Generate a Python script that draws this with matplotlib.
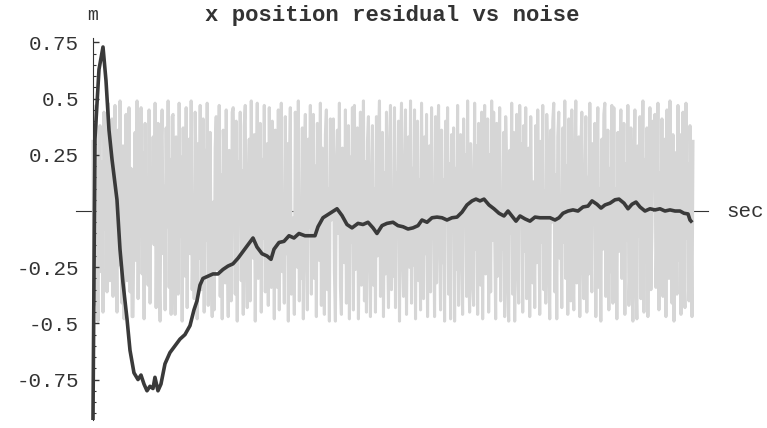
import numpy as np
import matplotlib.pyplot as plt
from matplotlib.ticker import MultipleLocator

# residual of the x position estimate (m) against time (sec)
residual_t = [0, 0.33, 1.0, 1.67, 2.17, 2.67, 3.17, 4.0, 4.5, 5.0, 5.67, 6.17, 6.83,
              7.5, 8.0, 8.5, 9.0, 9.5, 10.0, 10.33, 10.83, 11.33, 12.0, 12.83, 13.67,
              14.5, 15.33, 16.17, 16.83, 17.33, 17.83, 18.33, 19.17, 20.0, 20.83, 21.67,
              22.5, 23.33, 24.17, 25.0, 25.83, 26.67, 27.33, 28.17, 29.0, 29.67, 30.17,
              31.0, 31.83, 32.67, 33.5, 34.33, 35.33, 36.17, 37.0, 37.5, 38.33, 39.5,
              40.67, 41.5, 42.33, 43.17, 44.17, 45.0, 45.83, 46.67, 47.33, 48.17, 49.0,
              50.0, 50.83, 51.67, 52.5, 53.33, 54.17, 54.83, 55.67, 56.5, 57.33, 58.17,
              59.0, 59.83, 60.67, 61.5, 62.33, 63.17, 63.83, 64.5, 65.17, 66.0, 66.83,
              67.67, 68.5, 69.17, 69.83, 70.5, 71.17, 72.0, 72.83, 73.67, 74.5, 75.33,
              76.17, 77.0, 77.67, 78.33, 79.17, 80.0, 80.83, 81.67, 82.5, 83.17, 84.0,
              84.67, 85.33, 86.17, 87.0, 87.67, 88.5, 89.17, 89.83, 90.5, 91.17, 92.0,
              92.83, 93.67, 94.5, 95.33, 96.17, 97.0, 97.83, 98.5, 99.17, 99.5, 99.67]
residual_m = [-0.93, 0.32, 0.63, 0.73, 0.58, 0.36, 0.23, 0.05, -0.17, -0.32, -0.48, -0.62,
              -0.72, -0.75, -0.73, -0.77, -0.80, -0.78, -0.79, -0.74, -0.80, -0.77, -0.68,
              -0.63, -0.60, -0.57, -0.55, -0.51, -0.44, -0.40, -0.33, -0.30, -0.29, -0.28,
              -0.28, -0.26, -0.245, -0.235, -0.21, -0.18, -0.15, -0.12, -0.16, -0.19,
              -0.20, -0.215, -0.17, -0.14, -0.135, -0.11, -0.12, -0.10, -0.11, -0.11,
              -0.11, -0.07, -0.03, -0.01, 0.01, -0.02, -0.06, -0.075, -0.055, -0.06,
              -0.05, -0.075, -0.10, -0.065, -0.055, -0.05, -0.065, -0.07, -0.08, -0.075,
              -0.065, -0.04, -0.05, -0.03, -0.027, -0.03, -0.04, -0.03, -0.027, -0.005,
              0.027, 0.045, 0.053, 0.045, 0.053, 0.027, 0.01, -0.01, -0.022, 0.0, -0.022,
              -0.045, -0.022, -0.035, -0.045, -0.027, -0.03, -0.03, -0.03, -0.04, -0.03,
              -0.01, 0.0, 0.005, 0.0, 0.018, 0.022, 0.045, 0.03, 0.013, 0.027, 0.035,
              0.05, 0.053, 0.035, 0.01, 0.03, 0.04, 0.018, 0.0, 0.01, 0.005, 0.01, 0.0,
              0.005, 0.0, 0.0, -0.01, -0.013, -0.04, -0.045]

# measurement noise samples (m), evenly spaced over the run
noise_m = [
    0.31, -0.42, 0.12, 0.47, -0.18, -0.49, 0.05, 0.38, -0.27, 0.22, -0.45, 0.44, -0.08, 0.29, -0.36, 0.48, -0.13, -0.31, 0.17, 0.41,
    -0.38, 0.21, 0.47, -0.11, -0.45, 0.36, -0.24, 0.49, 0.08, -0.41, 0.29, -0.48, 0.14, 0.43, -0.31, -0.02, 0.46, -0.36, 0.19, -0.47,
    -0.47, 0.02, 0.35, -0.22, 0.49, -0.39, 0.11, -0.04, 0.46, -0.28, 0.26, -0.48, 0.39, -0.15, 0.07, -0.33, 0.45, -0.41, 0.19, -0.06,
    0.33, -0.15, 0.48, -0.43, 0.05, 0.39, -0.28, -0.49, 0.26, 0.45, -0.19, 0.11, -0.44, 0.37, -0.07, 0.49, -0.34, 0.23, -0.46, 0.42,
    0.43, -0.24, -0.46, 0.33, 0.09, -0.37, 0.48, -0.11, 0.24, -0.49, 0.37, -0.02, -0.29, 0.46, -0.43, 0.14, 0.32, -0.19, 0.49, -0.35,
    -0.09, -0.39, 0.44, 0.16, -0.48, 0.30, -0.21, 0.47, -0.35, 0.02, 0.41, -0.45, 0.27, -0.13, 0.48, -0.42, 0.09, 0.35, -0.29, -0.47,
    0.04, -0.44, 0.28, 0.42, -0.26, -0.09, 0.47, -0.38, 0.16, -0.48, 0.36, 0.21, -0.32, 0.45, -0.14, -0.47, 0.27, 0.01, -0.40, 0.44,
    0.46, 0.12, -0.37, 0.40, -0.49, 0.22, -0.06, 0.44, -0.31, 0.18, -0.46, 0.38, 0.47, -0.24, -0.43, 0.07, 0.32, -0.40, 0.49, -0.16,
    -0.21, 0.34, -0.49, 0.13, 0.48, -0.30, -0.05, 0.39, -0.45, 0.23, -0.12, 0.47, -0.36, 0.08, 0.30, -0.42, 0.46, -0.17, -0.34, 0.40,
    0.25, -0.48, 0.36, -0.01, -0.34, 0.45, -0.44, 0.13, 0.48, -0.27, 0.04, -0.41, 0.42, -0.19, 0.30, -0.49, 0.17, 0.46, -0.37, -0.08,
    -0.03, -0.46, 0.44, 0.18, -0.25, 0.49, -0.40, 0.06, -0.30, 0.37, -0.48, 0.25, 0.43, -0.16, -0.44, 0.32, -0.07, 0.47, -0.37, 0.15,
    0.43, -0.30, 0.20, -0.47, 0.39, 0.06, -0.22, 0.48, -0.42, 0.28, -0.12, -0.46, 0.34, 0.45, -0.35, 0.10, -0.49, 0.41, -0.04, 0.24,
    0.41, -0.27, -0.49, 0.20, 0.36, -0.10, 0.48, -0.34, -0.46, 0.28, 0.03, -0.23, 0.45, -0.41, 0.12, 0.38, -0.48, 0.24, -0.14, 0.46,
    -0.44, 0.47, -0.26, 0.15, 0.37, -0.48, 0.01, 0.44, -0.33, -0.14, 0.49, -0.40, 0.22, -0.45, 0.31, 0.42, -0.18, -0.47, 0.08, 0.38,
    -0.33, 0.10, -0.45, 0.42, -0.20, 0.31, 0.49, -0.38, -0.01, 0.35, -0.47, 0.17, -0.28, 0.44, -0.11, -0.43, 0.26, 0.47, -0.35, 0.07,
    -0.29, 0.46, -0.43, 0.17, -0.07, 0.40, -0.49, 0.27, 0.48, -0.20, -0.38, 0.12, 0.45, -0.46, 0.03, 0.33, -0.25, 0.49, -0.41, 0.19,
    -0.24, 0.45, -0.48, 0.22, 0.40, -0.31, 0.14, -0.44, 0.48, -0.06, -0.39, 0.33, -0.19, 0.43, -0.47, 0.04, 0.29, -0.36, 0.46, -0.12,
    0.07, -0.47, 0.42, -0.32, 0.26, 0.47, -0.12, -0.44, 0.36, -0.23, 0.14, -0.49, 0.40, -0.05, 0.46, -0.37, 0.21, -0.48, 0.34, 0.00,
    0.37, -0.49, 0.19, -0.26, 0.47, -0.42, 0.08, 0.34, -0.15, -0.46, 0.41, -0.03, 0.25, -0.38, 0.49, -0.21, -0.45, 0.30, 0.11, -0.33,
    -0.42, 0.48, -0.17, 0.29, -0.46, 0.39, 0.09, -0.33, 0.44, -0.48, 0.18, 0.47, -0.28, -0.10, 0.41, -0.45, 0.25, -0.36, 0.49, -0.13,
    0.44, -0.08, -0.48, 0.39, -0.29, 0.16, 0.46, -0.40, 0.05, -0.17, 0.35, -0.47, 0.42, 0.20, -0.32, -0.49, 0.27, -0.10, 0.48, -0.37,
    0.35, -0.49, 0.06, 0.43, -0.24, -0.41, 0.47, -0.03, 0.30, -0.45, 0.38, -0.18, 0.46, -0.39, 0.11, 0.28, -0.47, 0.42, -0.09, -0.32,
    0.13, -0.43, 0.38, -0.23, 0.45, 0.02, -0.46, 0.31, -0.14, 0.47, -0.35, 0.09, -0.41, 0.43, 0.23, -0.27, -0.48, 0.36, -0.05, 0.40,
    0.48, -0.36, 0.16, -0.48, 0.33, 0.44, -0.21, 0.03, -0.43, 0.37, -0.14, 0.49, -0.30, 0.20, -0.46, 0.41, 0.07, -0.40, 0.45, -0.25,
    -0.44, 0.18, 0.49, -0.32, -0.12, 0.33, -0.47, 0.26, 0.44, -0.20, -0.39, 0.06, 0.42, -0.45, 0.15, -0.28, 0.48, -0.09, -0.36, 0.30,
    -0.06, 0.39, -0.47, 0.24, 0.46, -0.34, 0.10, -0.49, 0.32, -0.17, 0.43, 0.48, -0.38, -0.02, 0.36, -0.44, 0.19, -0.27, 0.47, -0.41,
    0.46, -0.40, 0.10, -0.48, 0.35, -0.18, 0.24, 0.45, -0.30, -0.04, 0.39, -0.46, 0.21, -0.13, 0.47, -0.42, -0.25, 0.37, 0.03, -0.49,
    0.14, 0.45, -0.31, -0.48, 0.29, -0.11, 0.42, -0.39, 0.05, 0.49, -0.45, 0.23, -0.20, 0.37, -0.47, 0.11, 0.46, -0.35, -0.08, 0.40,
    0.28, 0.43, -0.34, -0.07, 0.48, -0.44, 0.17, -0.22, 0.41, -0.38, 0.12, 0.32, -0.47, 0.45, -0.16, -0.30, 0.49, -0.02, -0.41, 0.34,
    -0.49, 0.26, 0.04, -0.37, 0.47, -0.22, 0.34, -0.46, 0.15, 0.44, -0.28, -0.43, 0.48, -0.12, 0.21, -0.40, 0.38, 0.02, -0.47, 0.31,
]
noise_t = np.linspace(0, 100, len(noise_m))

ytick_vals = [-0.75, -0.5, -0.25, 0.25, 0.5, 0.75]
ytick_labels = ['-0.75', '-0.5', '-0.25', '0.25', '0.5', '0.75']

mono = 'Liberation Mono'

fig = plt.figure(figsize=(7.67, 4.28), dpi=100)
ax = fig.add_axes([76 / 767, 8 / 428, 632 / 767, 382 / 428])

ax.plot(noise_t, noise_m, color='#d6d6d6', lw=2.2, zorder=1)
ax.plot(residual_t, residual_m, color='#3a3a3a', lw=2.6, zorder=3,
        solid_joinstyle='round')

ax.set_xlim(-2.83, 102.5)
ax.set_ylim(-0.93, 0.77)

# axes cross at the origin
for side in ['top', 'right']:
    ax.spines[side].set_visible(False)
ax.spines['left'].set_position(('data', 0))
ax.spines['bottom'].set_position(('data', 0))
ax.spines['left'].set_color('#333333')
ax.spines['bottom'].set_color('#333333')
ax.spines['bottom'].set_zorder(0.5)

ax.set_xticks([])
ax.set_yticks(ytick_vals)
ax.set_yticklabels(ytick_labels, family=mono, fontsize=15, color='#333333')
ax.yaxis.set_minor_locator(MultipleLocator(0.05))
ax.tick_params(axis='y', which='major', direction='in', length=4, width=1,
               pad=10, color='#333333')
ax.tick_params(axis='y', which='minor', direction='in', length=2, width=0.8,
               color='#333333')

ax.text(0, 0.87, 'm', ha='center', va='center', family=mono, fontsize=13,
        color='#333333', clip_on=False)
ax.text(105.6, 0, 'sec', ha='left', va='center', family=mono, fontsize=15,
        color='#333333', clip_on=False)
fig.text(392 / 767, 1 - 16 / 428, 'x position residual vs noise', ha='center',
         va='center', family=mono, fontweight='bold', fontsize=16, color='#333333')

fig.savefig('out.png', dpi=100)
